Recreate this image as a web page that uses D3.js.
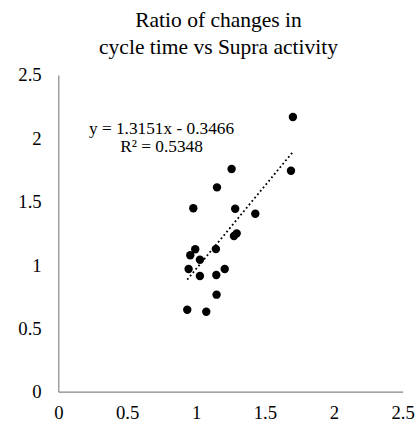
<!DOCTYPE html>
<html>
<head>
<meta charset="utf-8">
<script src="https://cdn.jsdelivr.net/npm/d3@7"></script>
<style>
  html, body { margin: 0; padding: 0; background: #fff; }
  svg text { font-family: "Liberation Serif", "Times New Roman", serif; fill: #000; }
</style>
</head>
<body>
<svg id="chart" width="416" height="423"></svg>
<script>
// Ratio of change in cycle time (x) against ratio of change in Supra activity (y)
const xValues = [1.258, 1.689, 1.152, 0.980, 1.284, 1.430, 1.295, 1.275, 0.994, 1.144,
                 0.958, 1.028, 0.946, 1.208, 1.028, 1.147, 1.149, 0.936, 1.074, 1.703];
const yValues = [1.758, 1.744, 1.613, 1.448, 1.444, 1.405, 1.250, 1.229, 1.124, 1.126,
                 1.077, 1.042, 0.968, 0.968, 0.913, 0.921, 0.766, 0.647, 0.631, 2.168];
const xTicks = [0, 0.5, 1, 1.5, 2, 2.5];
const yTicks = [0, 0.5, 1, 1.5, 2, 2.5];
const titleLines = ["Ratio of changes in", "cycle time vs Supra activity"];

// Linear trendline fitted to the points
const slope = 1.3151;
const intercept = -0.3466;
const rSquared = 0.5348;

const svg = d3.select("#chart");
const serif = '"Liberation Serif", "Times New Roman", serif';

const x = d3.scaleLinear().domain([0, 2.5]).range([58.3, 402.7]);
const y = d3.scaleLinear().domain([0, 2.5]).range([391.7, 75]);

// Title
svg.append("text")
  .attr("text-anchor", "middle")
  .style("font-size", "21.5px")
  .selectAll("tspan")
  .data(titleLines)
  .join("tspan")
  .attr("x", 218.5)
  .attr("y", (d, i) => 26.5 + i * 27.3)
  .text(d => d);

// Axes: plain lines, no tick marks
const axisColor = "#868686";
const yAxis = d3.axisLeft(y).tickValues(yTicks).tickSize(0).tickPadding(16.6)
  .tickFormat(d3.format("~g"));
const xAxis = d3.axisBottom(x).tickValues(xTicks).tickSize(0).tickPadding(14)
  .tickFormat(d3.format("~g"));

const gy = svg.append("g").attr("transform", `translate(${x(0)},0)`).call(yAxis);
const gx = svg.append("g").attr("transform", `translate(0,${y(0)})`).call(xAxis);

[gx, gy].forEach(g => {
  g.attr("font-family", null).attr("font-size", null);
  g.select(".domain").attr("stroke", axisColor).attr("stroke-width", 1.2);
  g.selectAll("text")
    .style("font-family", serif)
    .style("font-size", "18.7px")
    .attr("fill", "#000");
});

// Data points
const points = xValues.map((v, i) => ({ x: v, y: yValues[i] }));
svg.append("g")
  .selectAll("circle")
  .data(points)
  .join("circle")
  .attr("cx", d => x(d.x))
  .attr("cy", d => y(d.y))
  .attr("r", 4.2)
  .attr("fill", "#000");

// Dotted trendline across the range of x
const [xMin, xMax] = d3.extent(xValues);
const line = d3.line().x(d => x(d)).y(d => y(slope * d + intercept));
svg.append("path")
  .datum([xMin, xMax])
  .attr("d", line)
  .attr("fill", "none")
  .attr("stroke", "#000")
  .attr("stroke-width", 1.8)
  .attr("stroke-dasharray", "1.8 2.6");

// Trendline equation label
const eqLines = [
  `y = ${slope}x - ${Math.abs(intercept)}`,
  `R² = ${rSquared}`
];
svg.append("text")
  .attr("text-anchor", "middle")
  .style("font-size", "17.3px")
  .selectAll("tspan")
  .data(eqLines)
  .join("tspan")
  .attr("x", 161.5)
  .attr("y", (d, i) => 133.5 + i * 18.3)
  .text(d => d);
</script>
</body>
</html>
